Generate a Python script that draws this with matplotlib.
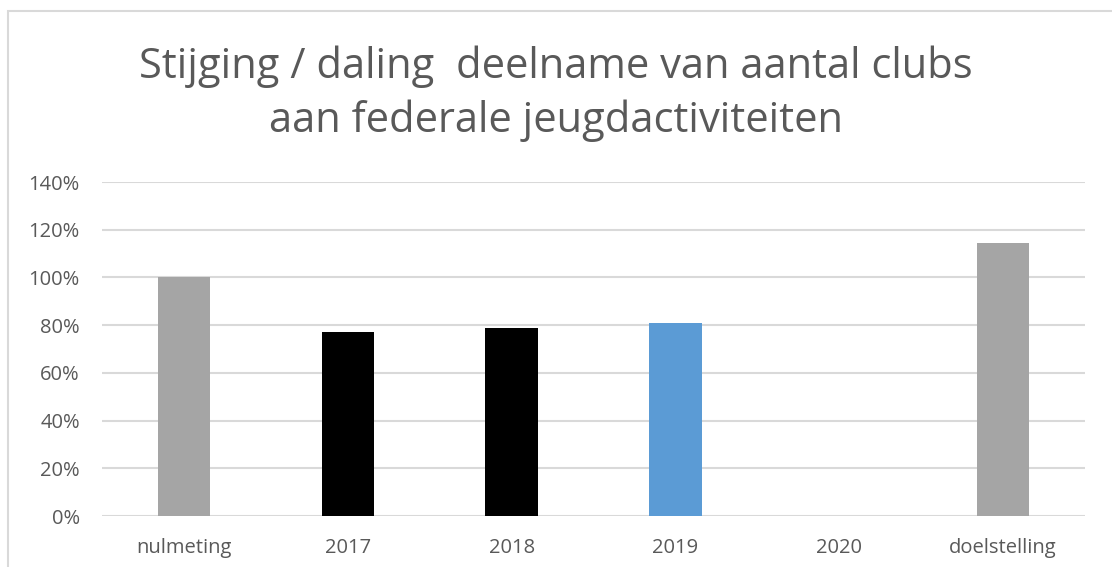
import numpy as np
import matplotlib.pyplot as plt
from matplotlib.patches import Rectangle
from matplotlib.ticker import PercentFormatter

# chart data
categories = ["nulmeting", "2017", "2018", "2019", "2020", "doelstelling"]
values = [100, 77, 79, 81, np.nan, 114.5]
bar_colors = ["#A5A5A5", "#000000", "#000000", "#5B9BD5", "#5B9BD5", "#A5A5A5"]
y_ticks = [0, 20, 40, 60, 80, 100, 120, 140]
title = "Stijging / daling  deelname van aantal clubs\naan federale jeugdactiviteiten"

plt.rcParams['font.family'] = ['Open Sans', 'DejaVu Sans']
text_color = "#595959"

fig = plt.figure(figsize=(11.12, 5.67), dpi=100)
ax = fig.add_axes([102 / 1112, 51 / 567, 983 / 1112, 334 / 567])

x = np.arange(len(categories))
ax.bar(x, values, width=0.32, color=bar_colors, zorder=3)

ax.set_xlim(-0.5, len(categories) - 0.5)
ax.set_ylim(0, 140)
ax.set_yticks(y_ticks)
ax.yaxis.set_major_formatter(PercentFormatter(decimals=0))
ax.set_xticks(x)
ax.set_xticklabels(categories)
ax.tick_params(axis='both', length=0, labelsize=14.5, colors=text_color)
ax.tick_params(axis='y', pad=16)
ax.tick_params(axis='x', pad=16)

ax.grid(axis='y', color="#D9D9D9", linewidth=1.5, zorder=0)
for side in ax.spines.values():
    side.set_visible(False)

fig.text(0.5, 1 - 94 / 567, title, ha='center', va='center',
         fontsize=30, color=text_color, linespacing=1.36)

# outer chart border (cut off at right and bottom)
fig.patches.append(Rectangle((8 / 1112, -0.1), 1.2, 1 - 11 / 567 + 0.1,
                             transform=fig.transFigure, fill=False,
                             edgecolor="#D9D9D9", linewidth=1.5))

fig.savefig("out.png", dpi=100)
